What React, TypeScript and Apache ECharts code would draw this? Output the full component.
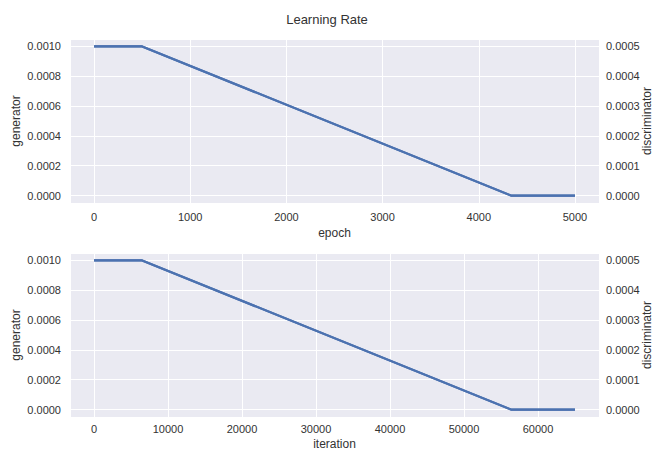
import React, { useEffect, useRef } from "react";
import * as echarts from "echarts";

// ---- data ----
const epochs = [0, 500, 4335, 5000];
const epochGeneratorLR = [0.001, 0.001, 0, 0];
const epochDiscriminatorLR = [0.0005, 0.0005, 0, 0];

const iterations = [0, 6500, 56355, 65000];
const iterationGeneratorLR = [0.001, 0.001, 0, 0];
const iterationDiscriminatorLR = [0.0005, 0.0005, 0, 0];

const title = "Learning Rate";
const xNames = ["epoch", "iteration"];
const leftName = "generator";
const rightName = "discriminator";

const FONT = "'Liberation Sans', Arial, Helvetica, sans-serif";
const TEXT = "#333333";
const LINE = "#4C72B0";
const BG = "#EAEAF2";

const pair = (xs: number[], ys: number[]) => xs.map((x, i) => [x, ys[i]]);

const onTick = (step: number, digits: number) => (v: number) => {
  const r = v / step;
  return Math.abs(r - Math.round(r)) < 1e-6 ? v.toFixed(digits) : "";
};

export default function App() {
  const ref = useRef<HTMLDivElement>(null);

  useEffect(() => {
    if (!ref.current) return;
    const chart = echarts.init(ref.current, undefined, { renderer: "svg" });

    const grids = [
      { left: 70, top: 39, width: 529, height: 164 },
      { left: 70, top: 253, width: 529, height: 164 },
    ].map((g) => ({
      ...g,
      show: true,
      backgroundColor: BG,
      borderWidth: 0,
      containLabel: false,
      outerBoundsMode: "none",
    }));

    const xRanges = [
      { min: -250, max: 5250, step: 1000, gap: 24, margin: 8 },
      { min: -3250, max: 68250, step: 10000, gap: 21, margin: 6 },
    ];

    const xAxes = xRanges.map((r, i) => ({
      type: "value",
      gridIndex: i,
      min: r.min,
      max: r.max,
      minInterval: r.step,
      maxInterval: r.step,
      name: xNames[i],
      nameLocation: "middle",
      nameGap: r.gap,
      nameMoveOverlap: false,
      nameTextStyle: { color: TEXT, fontSize: 12, fontFamily: FONT },
      axisLine: { show: false },
      axisTick: { show: false },
      axisLabel: {
        color: TEXT,
        fontSize: 11,
        fontFamily: FONT,
        margin: r.margin,
        formatter: onTick(r.step, 0),
        hideOverlap: false,
      },
      splitLine: { show: true, lineStyle: { color: "#ffffff", width: 1 } },
    }));

    const yAxes: any[] = [];
    [0, 1].forEach((i) => {
      yAxes.push({
        type: "value",
        gridIndex: i,
        position: "left",
        min: -0.00005,
        max: 0.00105,
        minInterval: 0.0002,
        maxInterval: 0.0002,
        name: leftName,
        nameLocation: "middle",
        nameGap: 48,
        nameMoveOverlap: false,
        nameTextStyle: { color: TEXT, fontSize: 12, fontFamily: FONT },
        axisLine: { show: false },
        axisTick: { show: false },
        axisLabel: {
          color: TEXT,
          fontSize: 11,
          fontFamily: FONT,
          margin: 9,
          formatter: onTick(0.0002, 4),
        },
        splitLine: { show: true, lineStyle: { color: "#ffffff", width: 1 } },
      });
      yAxes.push({
        type: "value",
        gridIndex: i,
        position: "right",
        min: -0.000025,
        max: 0.000525,
        minInterval: 0.0001,
        maxInterval: 0.0001,
        name: rightName,
        nameLocation: "middle",
        nameGap: 42,
        nameMoveOverlap: false,
        nameTextStyle: { color: TEXT, fontSize: 12, fontFamily: FONT },
        axisLine: { show: false },
        axisTick: { show: false },
        axisLabel: {
          color: TEXT,
          fontSize: 11,
          fontFamily: FONT,
          margin: 7,
          formatter: onTick(0.0001, 4),
        },
        splitLine: { show: false },
      });
    });

    const lineSeries = (data: number[][], xi: number, yi: number) => ({
      type: "line",
      xAxisIndex: xi,
      yAxisIndex: yi,
      data,
      showSymbol: false,
      symbol: "none",
      lineStyle: { color: LINE, width: 2.2 },
      itemStyle: { color: LINE },
      clip: false,
    });

    chart.setOption({
      animation: false,
      backgroundColor: "#ffffff",
      textStyle: { fontFamily: FONT },
      title: {
        text: title,
        left: "center",
        top: 13,
        padding: 0,
        textStyle: { color: TEXT, fontSize: 13, fontWeight: "normal", fontFamily: FONT },
      },
      grid: grids,
      xAxis: xAxes,
      yAxis: yAxes,
      series: [
        lineSeries(pair(epochs, epochGeneratorLR), 0, 0),
        lineSeries(pair(epochs, epochDiscriminatorLR), 0, 1),
        lineSeries(pair(iterations, iterationGeneratorLR), 1, 2),
        lineSeries(pair(iterations, iterationDiscriminatorLR), 1, 3),
      ],
    });

    return () => chart.dispose();
  }, []);

  return (
    <div
      ref={ref}
      style={{ position: "fixed", left: 0, top: 0, width: 654, height: 455, background: "#fff" }}
    />
  );
}
